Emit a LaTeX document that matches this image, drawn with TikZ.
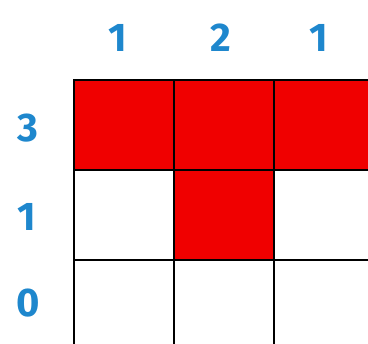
\documentclass[tikz,border=0pt]{standalone}
\usepackage{fontspec}
\setsansfont{Fira Sans}
\usepackage{xcolor}
\usepackage{tikz}
\usetikzlibrary{positioning}
\definecolor{cluebl}{RGB}{30, 135, 205}
\definecolor{cellred}{RGB}{240, 0, 0}

\begin{document}
\begin{tikzpicture}[
    x=1pt, y=-1pt,
    cell/.style={rectangle, draw=black, line width=1.3pt, fill=#1,
                 minimum width=100pt, minimum height=90pt, inner sep=0pt},
    clue/.style={font=\sffamily\bfseries\fontsize{40}{40}\selectfont, text=cluebl, inner sep=0pt}
]
    \useasboundingbox (0,0) rectangle (368,344);
    \clip (0,0) rectangle (368,344);
    % Grid cells
    \node[cell=cellred] (c11) at (124, 125) {};
    \node[cell=cellred] (c12) at (224, 125) {};
    \node[cell=cellred] (c13) at (324, 125) {};
    \node[cell=white] (c21) at (124, 215) {};
    \node[cell=cellred] (c22) at (224, 215) {};
    \node[cell=white] (c23) at (324, 215) {};
    \node[cell=white] (c31) at (124, 305) {};
    \node[cell=white] (c32) at (224, 305) {};
    \node[cell=white] (c33) at (324, 305) {};

    % Column clues
    \node[clue] (col1) at (118, 38) {1};
    \node[clue] (col2) at (221, 38) {2};
    \node[clue] (col3) at (319, 38) {1};

    % Row clues
    \node[clue] (row1) at (28, 128) {3};
    \node[clue] (row2) at (27, 217) {1};
    \node[clue] (row3) at (28, 303) {0};
\end{tikzpicture}
\end{document}
